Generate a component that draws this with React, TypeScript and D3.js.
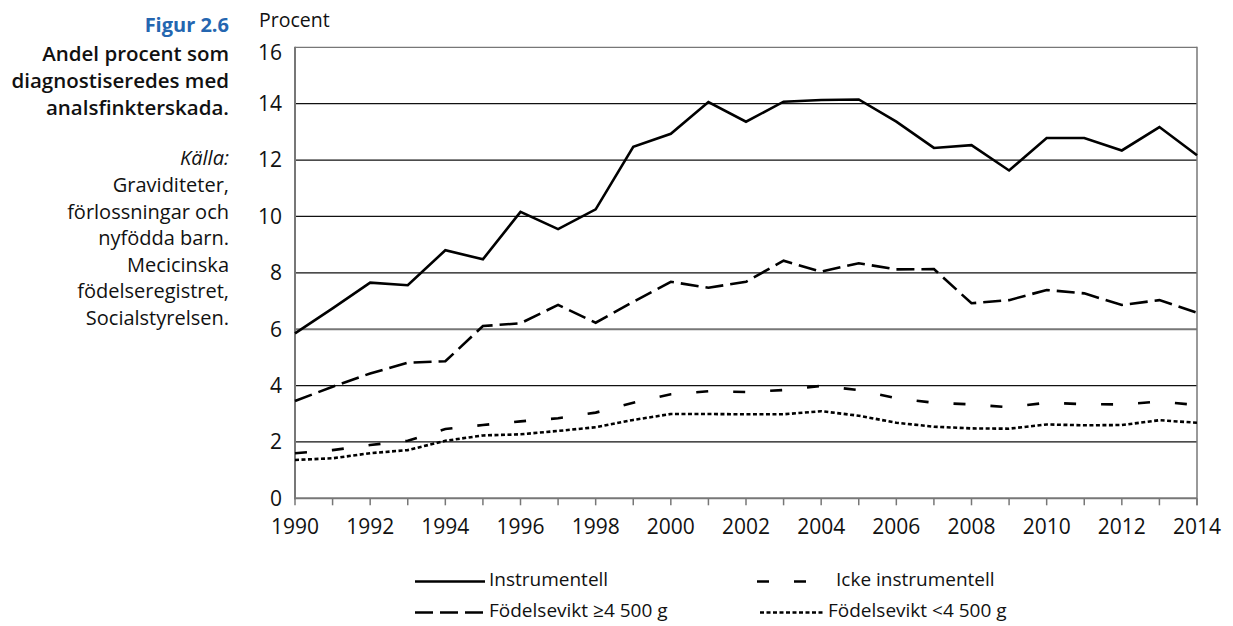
import React from "react";
import * as d3 from "d3";

const years: number[] = d3.range(1990, 2015);
const instrumentell: number[] = [5.85, 6.74, 7.65, 7.56, 8.8, 8.48, 10.16, 9.55, 10.25, 12.47, 12.93, 14.06, 13.36, 14.07, 14.13, 14.15, 13.36, 12.43, 12.53, 11.63, 12.78, 12.78, 12.34, 13.17, 12.17];
const fodelseviktOver: number[] = [3.45, 3.96, 4.43, 4.81, 4.86, 6.11, 6.21, 6.86, 6.23, 6.97, 7.68, 7.47, 7.68, 8.43, 8.04, 8.34, 8.12, 8.13, 6.92, 7.03, 7.39, 7.27, 6.86, 7.03, 6.58];
const ickeInstrumentell: number[] = [1.6, 1.71, 1.89, 2.04, 2.46, 2.6, 2.73, 2.84, 3.04, 3.39, 3.69, 3.8, 3.77, 3.84, 3.99, 3.84, 3.55, 3.39, 3.33, 3.23, 3.39, 3.34, 3.33, 3.43, 3.31];
const fodelseviktUnder: number[] = [1.36, 1.42, 1.6, 1.71, 2.04, 2.23, 2.27, 2.39, 2.52, 2.78, 2.99, 2.99, 2.98, 2.98, 3.09, 2.93, 2.68, 2.54, 2.48, 2.47, 2.62, 2.59, 2.6, 2.77, 2.68];
const yTicks: number[] = [0, 2, 4, 6, 8, 10, 12, 14, 16];
const xLabelYears: number[] = d3.range(1990, 2015, 2);
const titleLines: string[] = ["Andel procent som", "diagnostiseredes med", "analsfinkterskada."];
const sourceLines: string[] = ["Graviditeter,", "förlossningar och", "nyfödda barn.", "Mecicinska", "födelseregistret,", "Socialstyrelsen."];

const FONT = "'Open Sans', 'Noto Sans', sans-serif";

type Series = { name: string; values: number[]; dash: string | null };
const series: Series[] = [
  { name: "Instrumentell", values: instrumentell, dash: null },
  { name: "Födelsevikt ≥4 500 g", values: fodelseviktOver, dash: "18,7" },
  { name: "Icke instrumentell", values: ickeInstrumentell, dash: "12,25" },
  { name: "Födelsevikt <4 500 g", values: fodelseviktUnder, dash: "4,2.5" },
];

export default function App() {
  const left = 295, right = 1197, top = 47.3, bottom = 498.3;
  const x = d3.scaleLinear().domain([1990, 2014]).range([left, right]);
  const y = d3.scaleLinear().domain([0, 16]).range([bottom, top]);
  const line = d3.line<number>().x((_, i) => x(years[i])).y((v) => y(v));

  const legendItems = [
    { s: series[0], lx: 415, lw: 70, tx: 489, ty: 586 },
    { s: series[2], lx: 757, lw: 50, tx: 836, ty: 586 },
    { s: series[1], lx: 415, lw: 70, tx: 489, ty: 617 },
    { s: series[3], lx: 760, lw: 63, tx: 828, ty: 617 },
  ];

  return (
    <svg width={1233} height={626} style={{ position: "absolute", left: 0, top: 0, background: "#fff" }} fontFamily={FONT}>
      {/* left panel */}
      <text x={229} y={32} textAnchor="end" fontSize={20} fontWeight={700} fill="#2466b0">Figur 2.6</text>
      {titleLines.map((t, i) => (
        <text key={t} x={229} y={61 + i * 27} textAnchor="end" fontSize={20.5} fontWeight={600} fill="#111">{t}</text>
      ))}
      <text x={229} y={165} textAnchor="end" fontSize={20} fontStyle="italic" fill="#111">Källa:</text>
      {sourceLines.map((t, i) => (
        <text key={t} x={229} y={192 + i * 26.6} textAnchor="end" fontSize={20} fill="#111">{t}</text>
      ))}

      <text x={259} y={27} fontSize={19.5} fill="#111">Procent</text>

      {/* gridlines */}
      {yTicks.filter((t) => t > 0).map((t) => (
        <line key={t} x1={left} x2={right} y1={y(t)} y2={y(t)} stroke={t === 6 || t === 16 ? "#777" : "#111"} strokeWidth={t === 6 ? 2 : 1.2} />
      ))}
      {/* y labels */}
      {yTicks.map((t) => (
        <text key={t} x={282} y={y(t) + (t === 16 ? 5 : 0)} dy="0.35em" textAnchor="end" fontSize={21} fill="#111">{t}</text>
      ))}
      {/* axes */}
      <line x1={left} x2={left} y1={top - 0.5} y2={bottom + 1} stroke="#777" strokeWidth={2} />
      <line x1={right} x2={right} y1={top - 0.5} y2={bottom + 7} stroke="#777" strokeWidth={1.5} />
      <line x1={left - 1} x2={right} y1={bottom} y2={bottom} stroke="#777" strokeWidth={2} />
      {years.map((yr) => (
        <line key={yr} x1={x(yr)} x2={x(yr)} y1={bottom} y2={bottom + 7} stroke="#777" strokeWidth={1.5} />
      ))}
      {xLabelYears.map((yr) => (
        <text key={yr} x={x(yr)} y={534} textAnchor="middle" fontSize={21} fill="#111">{yr}</text>
      ))}

      {/* series */}
      {series.map((s) => (
        <path key={s.name} d={line(s.values) || ""} fill="none" stroke="#000" strokeWidth={2.6} strokeDasharray={s.dash || undefined} strokeLinejoin="miter" />
      ))}

      {/* legend */}
      {legendItems.map(({ s, lx, lw, tx, ty }) => (
        <g key={s.name}>
          <line x1={lx} x2={lx + lw} y1={ty - 4.5} y2={ty - 4.5} stroke="#000" strokeWidth={2.6} strokeDasharray={s.dash || undefined} />
          <text x={tx} y={ty} fontSize={19} fill="#111">{s.name}</text>
        </g>
      ))}
    </svg>
  );
}
